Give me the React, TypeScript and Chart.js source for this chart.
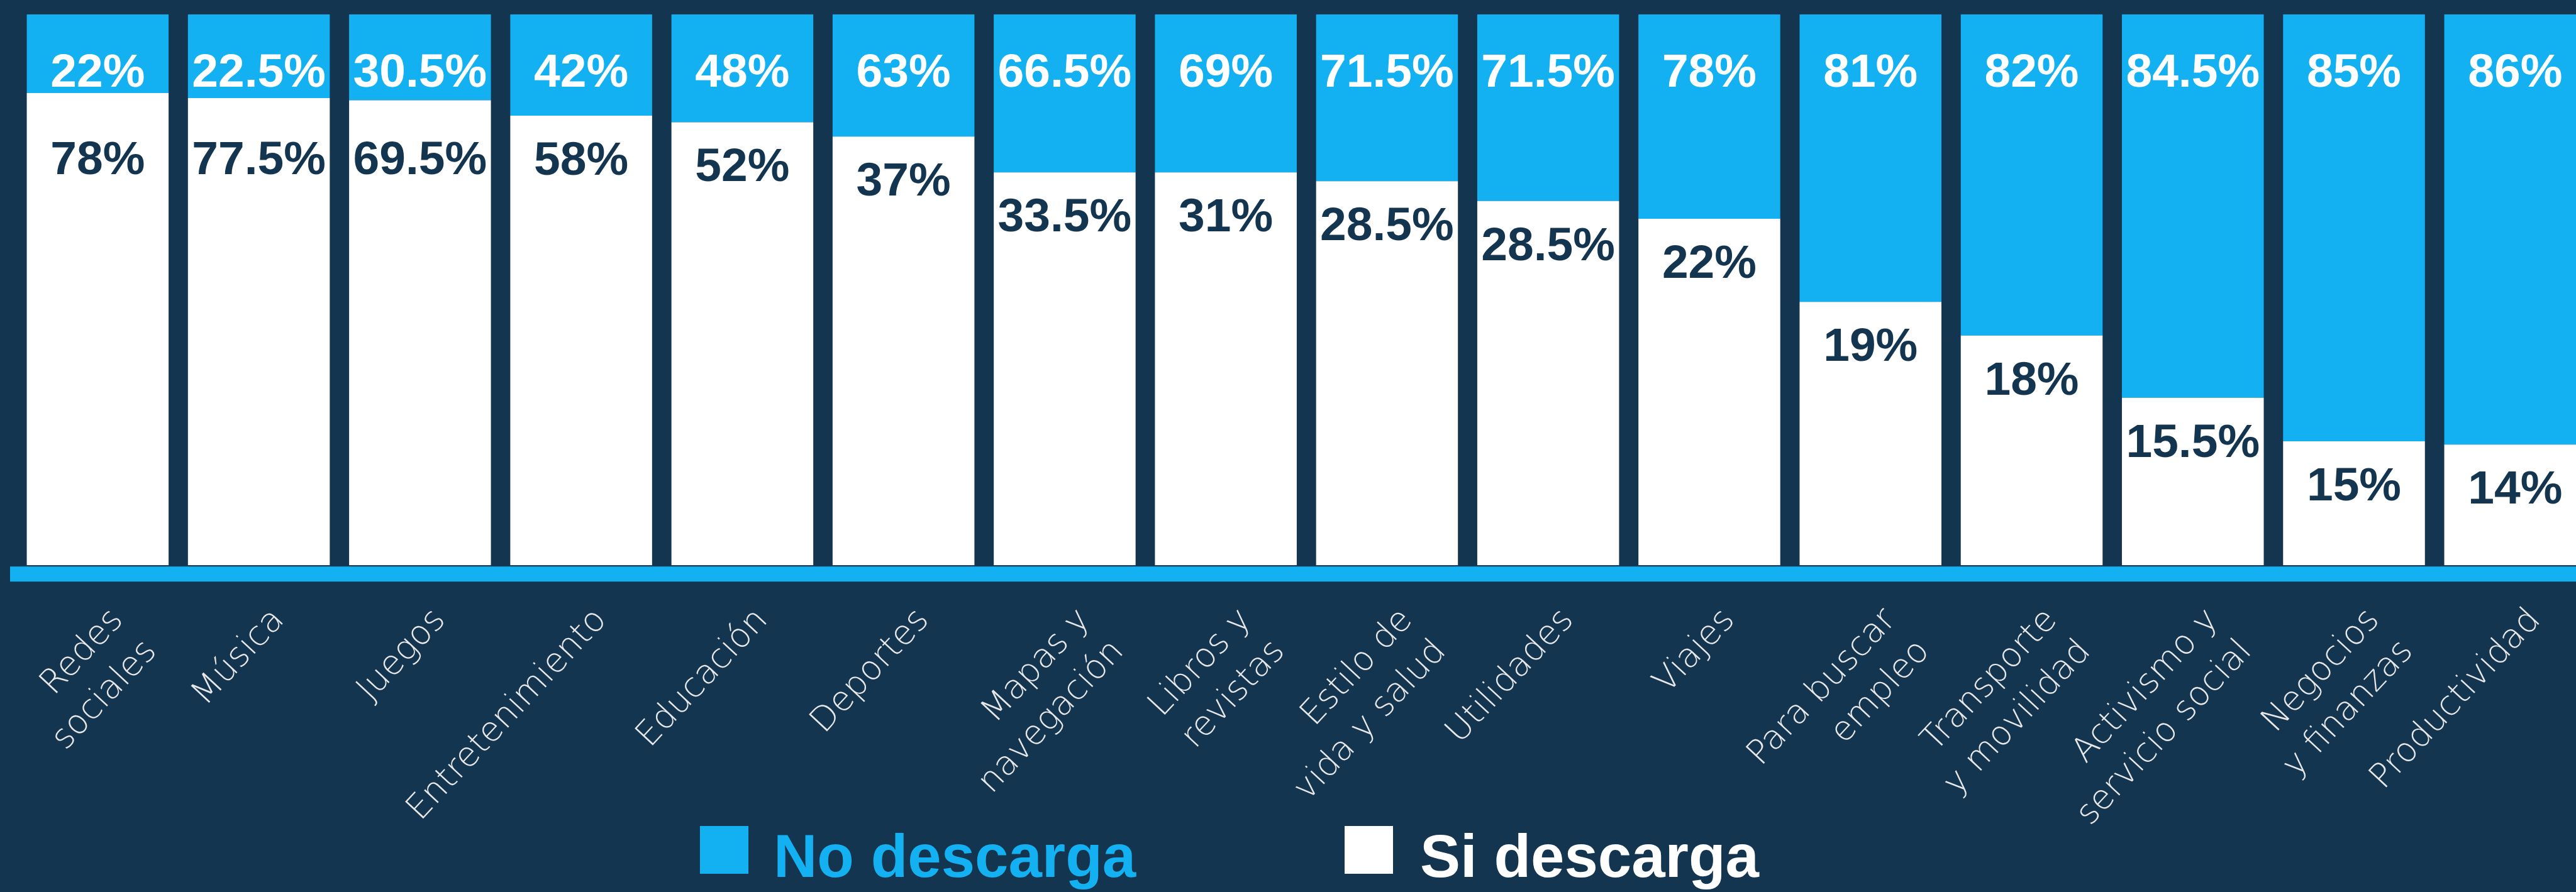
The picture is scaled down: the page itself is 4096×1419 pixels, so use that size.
import React, { useEffect, useRef } from "react";
import { Chart, registerables } from "chart.js";

Chart.register(...registerables);

// ---- data ----
const categories: (string | string[])[] = [
  ["Redes", "sociales"],
  "Música",
  "Juegos",
  "Entretenimiento",
  "Educación",
  "Deportes",
  ["Mapas y", "navegación"],
  ["Libros y", "revistas"],
  ["Estilo de", "vida y salud"],
  "Utilidades",
  "Viajes",
  ["Para buscar", "empleo"],
  ["Transporte", "y movilidad"],
  ["Activismo y", "servicio social"],
  ["Negocios", "y finanzas"],
  "Productividad",
];

const seriesNoName = "No descarga";
const seriesSiName = "Si descarga";

// printed percentages
const noDescargaPct = [22, 22.5, 30.5, 42, 48, 63, 66.5, 69, 71.5, 71.5, 78, 81, 82, 84.5, 85, 86];
const siDescargaPct = [78, 77.5, 69.5, 58, 52, 37, 33.5, 31, 28.5, 28.5, 22, 19, 18, 15.5, 15, 14];

// segment heights as drawn in the picture (share of the full bar)
const noDescargaDrawn = [14.3, 15.2, 15.6, 18.4, 19.6, 22.2, 28.7, 28.7, 30.3, 33.9, 37.1, 52.2, 58.3, 69.6, 77.5, 78.1];
const siDescargaDrawn = [85.7, 84.8, 84.4, 81.6, 80.4, 77.8, 71.3, 71.3, 69.7, 66.1, 62.9, 47.8, 41.7, 30.4, 22.5, 21.9];

// ---- styles ----
const NAVY = "#14354F";
const BLUE = "#14B1F2";
const WHITE = "#FFFFFF";
const TICK = "#E8E8E8";

const W = 4140;
const H = 1419;
const PLOT_TOP = 22.7;
const PLOT_BOTTOM = 899.2;
const PLOT_LEFT = 27.2;
const PLOT_RIGHT = 4127.4;

const valueLabels = {
  id: "valueLabels",
  afterDatasetsDraw(chart: any) {
    const { ctx } = chart;
    const yScale = chart.scales.y;
    const top = yScale.getPixelForValue(100);
    const siMeta = chart.getDatasetMeta(0);
    const noMeta = chart.getDatasetMeta(1);
    ctx.save();
    ctx.font = "bold 75px 'Liberation Sans', Arial, sans-serif";
    ctx.textAlign = "center";
    ctx.textBaseline = "alphabetic";
    noMeta.data.forEach((bar: any, i: number) => {
      ctx.fillStyle = WHITE;
      ctx.fillText(`${noDescargaPct[i]}%`, bar.x, top + 115);
      const boundary = siMeta.data[i].y;
      ctx.fillStyle = NAVY;
      ctx.fillText(`${siDescargaPct[i]}%`, bar.x, Math.max(boundary + 94, top + 254));
    });
    ctx.restore();
  },
};

const baseLine = {
  id: "baseLine",
  afterDatasetsDraw(chart: any) {
    const { ctx } = chart;
    const y0 = chart.scales.y.getPixelForValue(0);
    ctx.save();
    ctx.fillStyle = BLUE;
    ctx.fillRect(16, y0 + 2, chart.width - 16, 24);
    ctx.restore();
  },
};

const customLegend = {
  id: "customLegend",
  afterDraw(chart: any) {
    const { ctx } = chart;
    ctx.save();
    ctx.font = "bold 96px 'Liberation Sans', Arial, sans-serif";
    ctx.textAlign = "left";
    ctx.textBaseline = "alphabetic";
    const items = [
      { ds: 1, box: 1113, text: 1230 },
      { ds: 0, box: 2138, text: 2258 },
    ];
    items.forEach((it) => {
      const ds = chart.data.datasets[it.ds];
      ctx.fillStyle = ds.backgroundColor;
      ctx.fillRect(it.box, 1314, 77, 76);
      ctx.fillText(ds.label, it.text, 1395);
    });
    ctx.restore();
  },
};

export default function App() {
  const ref = useRef<HTMLCanvasElement | null>(null);

  useEffect(() => {
    if (!ref.current) return;
    const chart = new Chart(ref.current, {
      type: "bar",
      data: {
        labels: categories,
        datasets: [
          {
            label: seriesSiName,
            data: siDescargaDrawn,
            backgroundColor: WHITE,
            borderWidth: 0,
            barPercentage: 0.88,
            categoryPercentage: 1,
          },
          {
            label: seriesNoName,
            data: noDescargaDrawn,
            backgroundColor: BLUE,
            borderWidth: 0,
            barPercentage: 0.88,
            categoryPercentage: 1,
          },
        ],
      },
      options: {
        responsive: false,
        animation: false,
        devicePixelRatio: 1,
        layout: {
          padding: { left: PLOT_LEFT, right: W - PLOT_RIGHT, top: PLOT_TOP, bottom: 0 },
        },
        plugins: {
          legend: { display: false },
          tooltip: { enabled: false },
        },
        scales: {
          x: {
            stacked: true,
            grid: { display: false, drawTicks: false },
            border: { display: false },
            ticks: {
              color: TICK,
              font: { family: "'DejaVu Sans', sans-serif", size: 54, weight: "200", lineHeight: 1.35 },
              maxRotation: 47,
              minRotation: 47,
              autoSkip: false,
              padding: 54,
              labelOffset: 32,
            },
            afterFit: (s: any) => {
              s.height = H - PLOT_BOTTOM;
              s.paddingLeft = 0;
              s.paddingRight = 0;
            },
          },
          y: { stacked: true, min: 0, max: 100, display: false },
        },
      },
      plugins: [baseLine, valueLabels, customLegend],
    } as any);
    return () => chart.destroy();
  }, []);

  return (
    <div
      style={{
        position: "fixed",
        left: 0,
        top: 0,
        width: 4096,
        height: H,
        overflow: "hidden",
        background: NAVY,
      }}
    >
      <canvas ref={ref} width={W} height={H} style={{ width: W, height: H, display: "block" }} />
    </div>
  );
}
